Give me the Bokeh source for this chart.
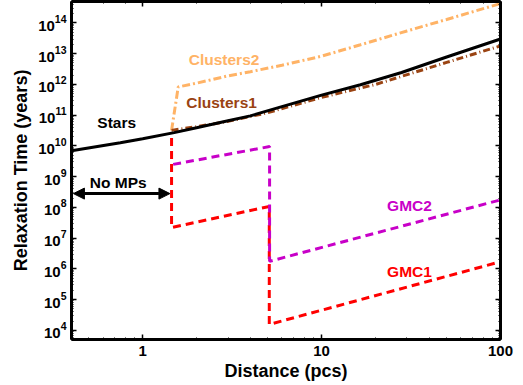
from bokeh.plotting import figure
from bokeh.models import LogAxis, LogTicker, FixedTicker, Arrow, NormalHead, CustomJSTickFormatter, ColumnDataSource
from bokeh.core.properties import value
from bokeh.embed import file_html
from bokeh.resources import INLINE

FONT = "Liberation Sans"

# ---- data ----
x_limits = (0.4, 100)
y_limits = (5e3, 5e14)
y_major_ticks = [1e4, 1e5, 1e6, 1e7, 1e8, 1e9, 1e10, 1e11, 1e12, 1e13, 1e14]

stars_x = [0.4, 0.75, 1.0, 1.5, 2, 3, 4, 6, 10, 16.5, 28, 50, 100]
stars_y = [6.9e9, 1.26e10, 1.7e10, 2.7e10, 3.9e10, 6.6e10, 9.5e10, 1.9e11, 4.5e11, 9.8e11, 2.45e12, 7.8e12, 3.0e13]

clusters1_x = [1.45, 2, 3, 5, 10, 20, 50, 100]
clusters1_y = [3.2e10, 4.2e10, 6.3e10, 1.2e11, 3.8e11, 1.0e12, 5.2e12, 1.8e13]

clusters2_x = [1.45, 1.58, 2, 3, 4, 6, 10, 16.5, 30, 50, 100]
clusters2_y = [3.2e10, 8.3e11, 1.1e12, 1.9e12, 2.6e12, 4.2e12, 8.3e12, 1.95e13, 5.5e13, 1.3e14, 4.3e14]

gmc1_x = [1.45, 1.45, 5.1, 5.1, 100]
gmc1_y = [1.8e10, 2.2e7, 1.07e8, 1.55e4, 1.7e6]

gmc2_x = [1.48, 5.12, 5.12, 100]
gmc2_y = [2.5e9, 9.5e9, 1.75e6, 1.75e8]

arrow_x = [0.41, 1.42]
arrow_y = [2.8e8, 2.8e8]

label_text = ["Stars", "No MPs", "Clusters2", "Clusters1", "GMC2", "GMC1"]
label_x = [0.716, 0.73, 2.85, 2.76, 31, 31]
label_y = [5.6e10, 6.6e8, 6.5e12, 2.6e11, 1.19e8, 7.9e5]

C_RED = "#ff0000"
C_MAG = "#c800c8"
C_ORANGE = "#ffb366"
C_BROWN = "#9a4312"
label_color = ["black", "black", C_ORANGE, C_BROWN, C_MAG, C_RED]

y_minor_ticks = [m * t for t in [1e3] + y_major_ticks for m in range(2, 10)]

p = figure(
    x_axis_type="log", y_axis_type="log",
    x_range=x_limits, y_range=y_limits,
    frame_width=429, frame_height=338,
    min_border_left=71, min_border_top=1, min_border_right=22, min_border_bottom=44,
    output_backend="svg", toolbar_location=None,
    background_fill_color="white", border_fill_color="white",
)
p.xgrid.visible = False
p.ygrid.visible = False
p.outline_line_color = "black"
p.outline_line_width = 2

# lines
p.line(gmc1_x, gmc1_y, line_color=C_RED, line_width=3, line_dash="8 5")
p.line(gmc2_x, gmc2_y, line_color=C_MAG, line_width=3, line_dash="8 5")
p.line(clusters2_x, clusters2_y, line_color=C_ORANGE, line_width=3, line_dash="8 3 2 3")
p.line(clusters1_x, clusters1_y, line_color=C_BROWN, line_width=3, line_dash="7 3 1 3")
p.line(stars_x, stars_y, line_color="black", line_width=3)

# arrow
p.add_layout(Arrow(
    start=NormalHead(size=11, fill_color="black", line_color="black"),
    end=NormalHead(size=11, fill_color="black", line_color="black"),
    x_start=arrow_x[0], y_start=arrow_y[0], x_end=arrow_x[1], y_end=arrow_y[1],
    line_width=3, line_color="black"))

# labels
src = ColumnDataSource(dict(x=label_x, y=label_y, text=label_text, color=label_color))
p.text(x="x", y="y", text="text", text_color="color", source=src,
       text_font=value(FONT), text_font_style="bold", text_font_size="15.5px",
       text_align="center", text_baseline="middle")

def style_axis(ax, labels=True):
    ax.axis_line_width = 3
    ax.axis_line_color = "black"
    ax.major_tick_in = 5
    ax.major_tick_out = 0
    ax.minor_tick_in = 2
    ax.minor_tick_out = 0
    ax.major_tick_line_width = 1.5
    ax.minor_tick_line_width = 1
    ax.major_tick_line_color = "black"
    ax.minor_tick_line_color = "black"
    ax.major_label_text_font = FONT
    ax.major_label_text_font_style = "bold"
    ax.major_label_text_color = "black"
    ax.axis_label_text_font = FONT
    ax.axis_label_text_font_style = "bold"
    ax.axis_label_text_font_size = "18px"
    ax.axis_label_text_color = "black"
    if labels:
        ax.major_label_text_font_size = "15px"
    else:
        ax.major_label_text_font_size = "2px"
        ax.major_label_text_color = None
        ax.major_label_standoff = 0

xa = p.xaxis[0]
ya = p.yaxis[0]
ya.ticker = FixedTicker(ticks=y_major_ticks, minor_ticks=y_minor_ticks)
style_axis(xa)
style_axis(ya)
xa.axis_label = "Distance (pcs)"
ya.axis_label = "Relaxation Time (years)"
xa.formatter = CustomJSTickFormatter(code="return tick.toFixed(0)")
xa.axis_label_standoff = 2
ya.axis_label_standoff = 4
ya.major_label_standoff = 5
xa.major_label_standoff = 6

ra = LogAxis(ticker=FixedTicker(ticks=y_major_ticks, minor_ticks=y_minor_ticks))
style_axis(ra, labels=False)
p.add_layout(ra, "right")
ta = LogAxis(ticker=LogTicker())
style_axis(ta, labels=False)
p.add_layout(ta, "above")

open("out.html", "w").write(file_html(p, INLINE))
